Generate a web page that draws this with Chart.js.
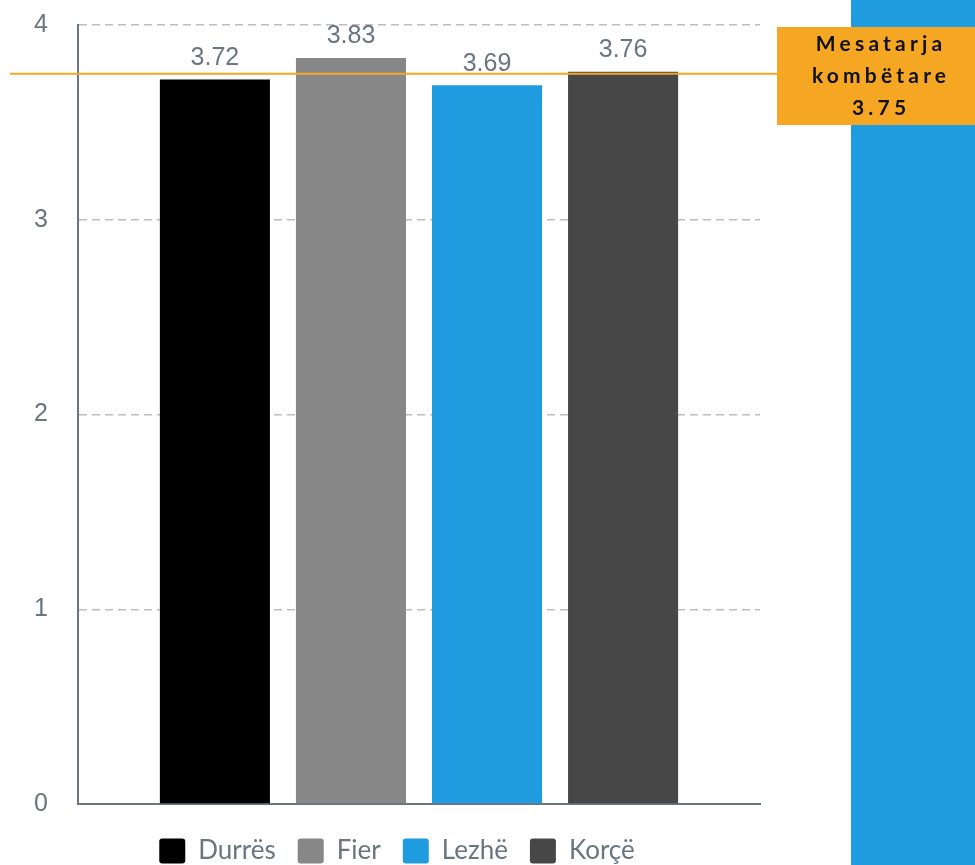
<!DOCTYPE html>
<html>
<head>
<meta charset="utf-8">
<script src="https://cdn.jsdelivr.net/npm/chart.js@4.4.0/dist/chart.umd.min.js"></script>
<style>
    html, body { margin: 0; padding: 0; background: #fff; overflow: hidden; }
    #wrap { position: relative; width: 975px; height: 874px; }
</style>
</head>
<body>
<div id="wrap"><canvas id="avg-chart"></canvas></div>
<script>
const regions = ['Durrës', 'Fier', 'Lezhë', 'Korçë'];
const scores = [3.72, 3.83, 3.69, 3.76];
const barColors = ['#000000', '#878787', '#1f9bdf', '#474747'];
const yTicks = [0, 1, 2, 3, 4];
const nationalAvg = 3.75;
const avgLabel = ['Mesatarja', 'kombëtare', String(nationalAvg)];

const textGray = '#6b7580';
const orange = '#f5a623';

// blue strip at the right edge, behind everything
const backdropPlugin = {
    id: 'backdrop',
    beforeDraw: (chart) => {
        const ctx = chart.ctx;
        ctx.save();
        ctx.fillStyle = '#1f9bdf';
        ctx.fillRect(851, 0, chart.width - 851, chart.height);
        ctx.restore();
    }
};

// value labels above bars
const valueLabelPlugin = {
    id: 'valueLabels',
    afterDatasetsDraw: (chart) => {
        const ctx = chart.ctx;
        ctx.save();
        ctx.font = '25px "Liberation Sans", Arial, sans-serif';
        ctx.fillStyle = textGray;
        ctx.textAlign = 'center';
        ctx.textBaseline = 'bottom';
        chart.data.datasets.forEach((ds, i) => {
            const bar = chart.getDatasetMeta(i).data[0];
            if (!bar) return;
            ctx.fillText(ds.data[0].toFixed(2), bar.x, bar.y - 9);
        });
        ctx.restore();
    }
};

// national average line + label box
const avgLinePlugin = {
    id: 'avgLine',
    afterDatasetsDraw: (chart) => {
        const ctx = chart.ctx;
        const y = chart.scales.y.getPixelForValue(nationalAvg);
        ctx.save();
        ctx.strokeStyle = orange;
        ctx.lineWidth = 2;
        ctx.beginPath();
        ctx.moveTo(10, y);
        ctx.lineTo(778, y);
        ctx.stroke();

        ctx.fillStyle = orange;
        ctx.fillRect(777, 27, chart.width - 777, 98);

        ctx.fillStyle = '#111111';
        ctx.font = 'bold 21px Lato, sans-serif';
        const spacing = 4.2;
        ctx.letterSpacing = spacing + 'px';
        ctx.textAlign = 'left';
        ctx.textBaseline = 'alphabetic';
        const cx = 879;
        const baselines = [51, 83, 115];
        avgLabel.forEach((line, i) => {
            const w = ctx.measureText(line).width - spacing;
            ctx.fillText(line, cx - w / 2, baselines[i]);
        });
        ctx.restore();
    }
};

const drawAvgChart = () => {
    return new Chart(document.getElementById('avg-chart').getContext('2d'), {
        type: 'bar',
        data: {
            labels: [''],
            datasets: regions.map((name, i) => ({
                label: name,
                data: [scores[i]],
                backgroundColor: barColors[i],
                borderWidth: 0,
                categoryPercentage: 0.798,
                barPercentage: 0.809,
            }))
        },
        options: {
            responsive: true,
            maintainAspectRatio: false,
            animation: false,
            devicePixelRatio: 1,
            layout: {
                padding: { left: 34, right: 215, top: 25, bottom: 0 }
            },
            plugins: {
                tooltip: { enabled: false },
                legend: {
                    position: 'bottom',
                    labels: {
                        boxWidth: 26,
                        boxHeight: 25,
                        padding: 22,
                        color: textGray,
                        useBorderRadius: true,
                        borderRadius: 3,
                        font: { family: 'Lato', size: 26 },
                    }
                }
            },
            scales: {
                x: {
                    grid: { display: false, drawTicks: false },
                    border: { color: textGray, width: 2 },
                    ticks: { display: false },
                    afterFit: (scale) => { scale.height = 12; }
                },
                y: {
                    min: 0,
                    max: 4,
                    afterBuildTicks: (scale) => {
                        scale.ticks = yTicks.map(v => ({ value: v }));
                    },
                    grid: {
                        drawTicks: false,
                        color: (ctx) => ctx.tick && ctx.tick.value === 0 ? 'rgba(0,0,0,0)' : '#bdbdbd',
                        lineWidth: 1.5,
                    },
                    border: { color: textGray, width: 2, dash: [8, 5] },
                    ticks: {
                        padding: 30,
                        color: textGray,
                        font: { family: '"Liberation Sans", Arial, sans-serif', size: 25 },
                    },
                    afterFit: (scale) => {
                        scale.width = 44;
                        scale.paddingTop = 0;
                        scale.paddingBottom = 0;
                    }
                }
            }
        },
        plugins: [backdropPlugin, valueLabelPlugin, avgLinePlugin]
    });
};

let avgChart = drawAvgChart();
</script>
</body>
</html>
